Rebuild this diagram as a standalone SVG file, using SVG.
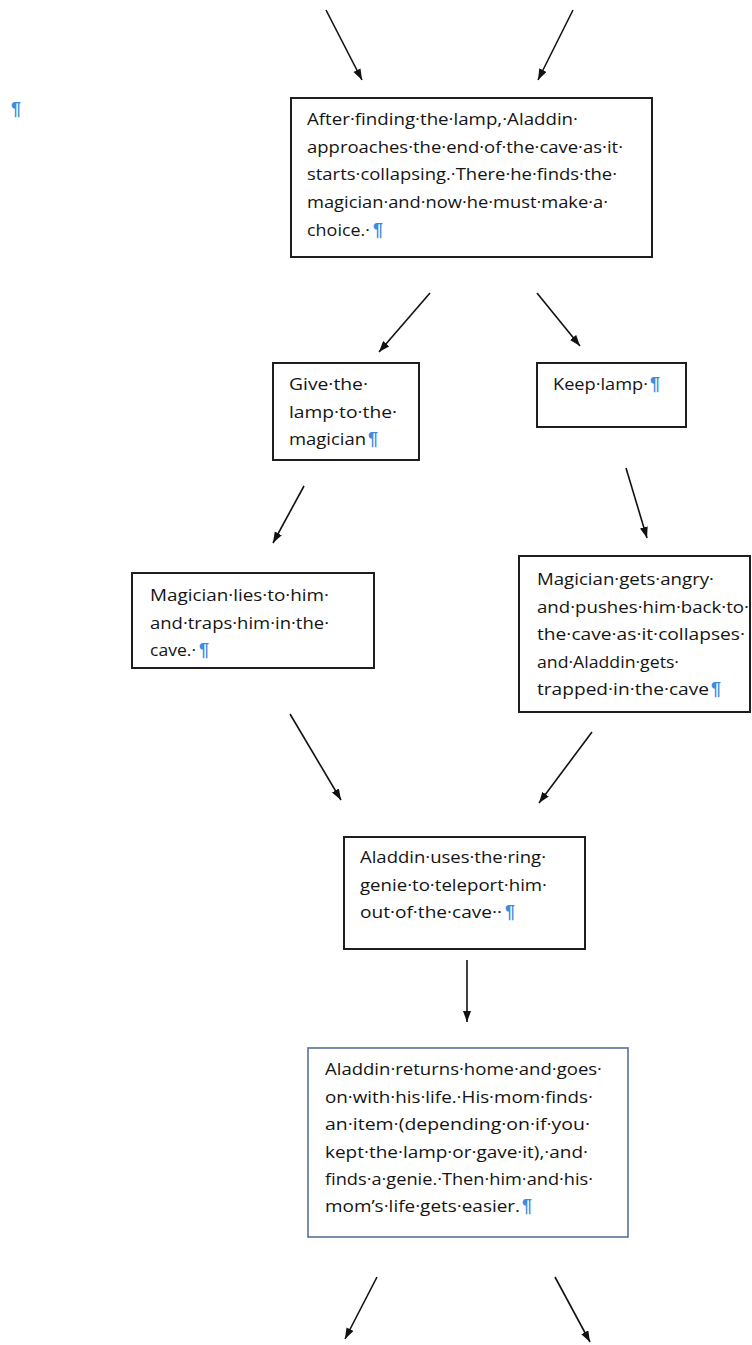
<svg xmlns="http://www.w3.org/2000/svg" width="752" height="1345" viewBox="0 0 752 1345">
<style>
.bx{fill:#fff;stroke:#1e1e1e;stroke-width:2}
.bx2{fill:#fff;stroke:#55709c;stroke-width:1.6}
.t{font-family:"Open Sans","Liberation Sans",sans-serif;font-size:16.5px;fill:#141414}
.p{font-family:"Liberation Sans","DejaVu Sans",sans-serif;font-size:18px;font-weight:bold;fill:#3d8be0}
.ar{stroke:#111;stroke-width:1.6;fill:none;marker-end:url(#ah)}
</style>
<defs>
<marker id="ah" markerUnits="userSpaceOnUse" markerWidth="12" markerHeight="9" refX="11" refY="4" orient="auto">
<path d="M0,0 L11,4 L0,8 z" fill="#111"/>
</marker>
</defs>
<rect width="752" height="1345" fill="#fff"/>
<text class="p" x="11" y="115">¶</text>
<g id="connectors">
<line class="ar" x1="326" y1="10" x2="362" y2="80"/>
<line class="ar" x1="573" y1="10" x2="538" y2="80"/>
<line class="ar" x1="430" y1="293" x2="379" y2="352"/>
<line class="ar" x1="537" y1="293" x2="580" y2="346"/>
<line class="ar" x1="304" y1="486" x2="273" y2="543"/>
<line class="ar" x1="626" y1="468" x2="647" y2="538"/>
<line class="ar" x1="290" y1="714" x2="341" y2="800"/>
<line class="ar" x1="592" y1="732" x2="539" y2="803"/>
<line class="ar" x1="467" y1="960" x2="467" y2="1022"/>
<line class="ar" x1="377" y1="1277" x2="345" y2="1339"/>
<line class="ar" x1="555" y1="1277" x2="590" y2="1342"/>
</g>
<g id="n1">
<rect class="bx" x="291" y="98" width="361" height="159"/>
<text class="t" x="307" y="125" textLength="271" lengthAdjust="spacingAndGlyphs">After·finding·the·lamp,·Aladdin·</text>
<text class="t" x="307" y="153" textLength="316" lengthAdjust="spacingAndGlyphs">approaches·the·end·of·the·cave·as·it·</text>
<text class="t" x="307" y="180" textLength="310" lengthAdjust="spacingAndGlyphs">starts·collapsing.·There·he·finds·the·</text>
<text class="t" x="307" y="208" textLength="301" lengthAdjust="spacingAndGlyphs">magician·and·now·he·must·make·a·</text>
<text class="t" x="307" y="236" textLength="63" lengthAdjust="spacingAndGlyphs">choice.·</text>
<text class="p" x="373" y="236">¶</text>
</g>
<g id="n2">
<rect class="bx" x="273" y="363" width="146" height="97"/>
<text class="t" x="289" y="390" textLength="79" lengthAdjust="spacingAndGlyphs">Give·the·</text>
<text class="t" x="289" y="418" textLength="108" lengthAdjust="spacingAndGlyphs">lamp·to·the·</text>
<text class="t" x="289" y="445" textLength="77" lengthAdjust="spacingAndGlyphs">magician</text>
<text class="p" x="368" y="445">¶</text>
</g>
<g id="n3">
<rect class="bx" x="537" y="363" width="149" height="64"/>
<text class="t" x="553" y="390" textLength="95" lengthAdjust="spacingAndGlyphs">Keep·lamp·</text>
<text class="p" x="650" y="390">¶</text>
</g>
<g id="n4">
<rect class="bx" x="132" y="573" width="242" height="95"/>
<text class="t" x="150" y="601" textLength="179" lengthAdjust="spacingAndGlyphs">Magician·lies·to·him·</text>
<text class="t" x="150" y="629" textLength="179" lengthAdjust="spacingAndGlyphs">and·traps·him·in·the·</text>
<text class="t" x="150" y="656" textLength="46" lengthAdjust="spacingAndGlyphs">cave.·</text>
<text class="p" x="199" y="656">¶</text>
</g>
<g id="n5">
<rect class="bx" x="519" y="556" width="231" height="156"/>
<text class="t" x="537" y="585" textLength="177" lengthAdjust="spacingAndGlyphs">Magician·gets·angry·</text>
<text class="t" x="537" y="613" textLength="212" lengthAdjust="spacingAndGlyphs">and·pushes·him·back·to·</text>
<text class="t" x="537" y="640" textLength="208" lengthAdjust="spacingAndGlyphs">the·cave·as·it·collapses·</text>
<text class="t" x="537" y="668" textLength="142" lengthAdjust="spacingAndGlyphs">and·Aladdin·gets·</text>
<text class="t" x="537" y="695" textLength="172" lengthAdjust="spacingAndGlyphs">trapped·in·the·cave</text>
<text class="p" x="711" y="695">¶</text>
</g>
<g id="n6">
<rect class="bx" x="344" y="837" width="241" height="112"/>
<text class="t" x="360" y="863" textLength="186" lengthAdjust="spacingAndGlyphs">Aladdin·uses·the·ring·</text>
<text class="t" x="360" y="891" textLength="187" lengthAdjust="spacingAndGlyphs">genie·to·teleport·him·</text>
<text class="t" x="360" y="918" textLength="142" lengthAdjust="spacingAndGlyphs">out·of·the·cave··</text>
<text class="p" x="505" y="918">¶</text>
</g>
<g id="n7">
<rect class="bx2" x="308" y="1048" width="320" height="189"/>
<text class="t" x="325" y="1075" textLength="277" lengthAdjust="spacingAndGlyphs">Aladdin·returns·home·and·goes·</text>
<text class="t" x="325" y="1103" textLength="268" lengthAdjust="spacingAndGlyphs">on·with·his·life.·His·mom·finds·</text>
<text class="t" x="325" y="1130" textLength="265" lengthAdjust="spacingAndGlyphs">an·item·(depending·on·if·you·</text>
<text class="t" x="325" y="1158" textLength="263" lengthAdjust="spacingAndGlyphs">kept·the·lamp·or·gave·it),·and·</text>
<text class="t" x="325" y="1185" textLength="268" lengthAdjust="spacingAndGlyphs">finds·a·genie.·Then·him·and·his·</text>
<text class="t" x="325" y="1212" textLength="195" lengthAdjust="spacingAndGlyphs">mom’s·life·gets·easier.</text>
<text class="p" x="522" y="1212">¶</text>
</g>
</svg>
